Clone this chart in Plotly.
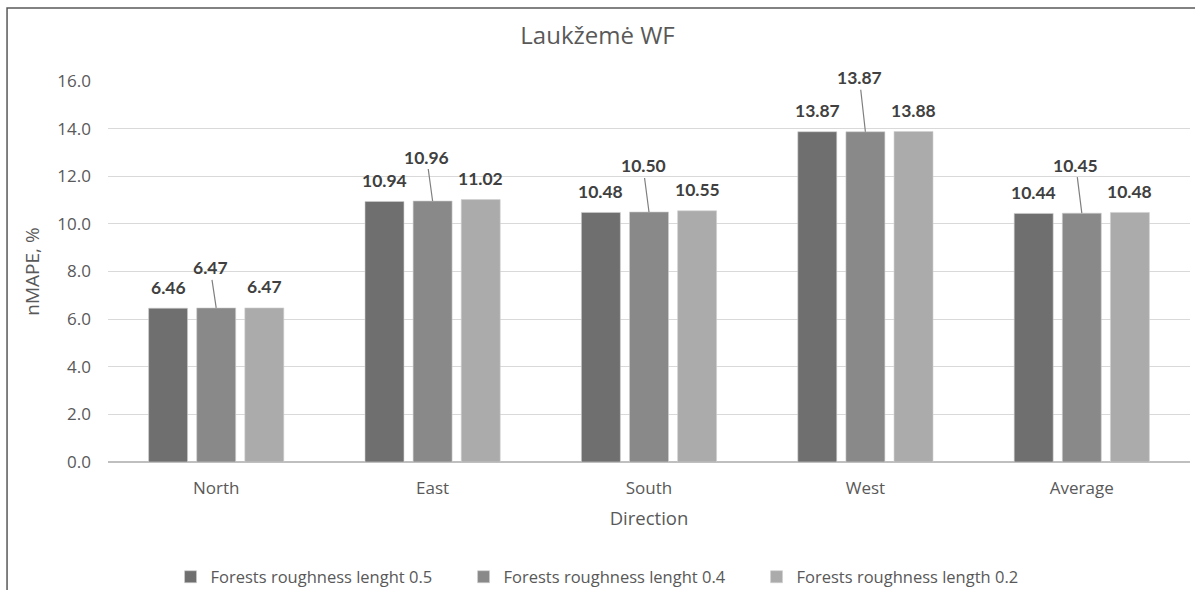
import plotly.graph_objects as go

categories = ["North", "East", "South", "West", "Average"]
series_names = [
    "Forests roughness lenght 0.5",
    "Forests roughness lenght 0.4",
    "Forests roughness length 0.2",
]
values_05 = [6.46, 10.94, 10.48, 13.87, 10.44]
values_04 = [6.47, 10.96, 10.50, 13.87, 10.45]
values_02 = [6.47, 11.02, 10.55, 13.88, 10.48]
y_ticks = [0, 2, 4, 6, 8, 10, 12, 14, 16]

colors = ["#6f6f6f", "#898989", "#ababab"]
# pixel offset of the middle-series labels (leader lines)
mid_label_lift = [-40, -44, -46, -54, -48]

FONT = "'Open Sans', Lato, sans-serif"
BFONT = "Lato, 'Open Sans', sans-serif"
TXT = "#595959"
LBL = "#404040"

fig = go.Figure()
all_series = [values_05, values_04, values_02]
for name, vals, col in zip(series_names, all_series, colors):
    fig.add_trace(go.Bar(
        x=categories, y=vals, name=name,
        marker=dict(color=col, line=dict(color="#d0d0d0", width=0.6)),
    ))

bargap = 0.333
slot = (1 - bargap) / 3
annotations = []
for s, vals in enumerate(all_series):
    off = (s - 1) * slot
    for i, v in enumerate(vals):
        if s == 1:
            annotations.append(dict(
                x=i + off, y=v, xref="x", yref="y", text=f"<b>{v:.2f}</b>",
                showarrow=True, arrowhead=0, arrowwidth=1.2, arrowcolor="#7f7f7f",
                ax=-6, ay=mid_label_lift[i], standoff=0, startstandoff=0,
                font=dict(family=BFONT, size=17.5, color=LBL),
            ))
        else:
            annotations.append(dict(
                x=i + off, y=v, xref="x", yref="y", text=f"<b>{v:.2f}</b>",
                showarrow=False, yshift=21, yanchor="middle",
                font=dict(family=BFONT, size=17.5, color=LBL),
            ))

fig.update_layout(
    width=1195, height=590,
    margin=dict(l=108, r=5, t=81, b=128, autoexpand=False),
    paper_bgcolor="white", plot_bgcolor="white",
    barmode="group", bargap=bargap, bargroupgap=0.19,
    font=dict(family=FONT, color=TXT, size=16),
    title=dict(text="Laukžemė WF", x=0.5, xanchor="center", y=0.94, yanchor="middle",
               font=dict(family=FONT, size=24, color=TXT)),
    xaxis=dict(
        type="category", range=[-0.5, 4.5],
        title=dict(text="Direction", font=dict(size=18.5, color=TXT), standoff=14),
        tickfont=dict(size=17, color=TXT), showgrid=False, ticks="",
        showline=False, ticklabelstandoff=14,
    ),
    yaxis=dict(
        range=[0, 16], tickvals=y_ticks, tickformat=".1f",
        title=dict(text="nMAPE, %", font=dict(size=19, color=TXT), standoff=12),
        tickfont=dict(size=17, color=TXT), gridcolor="#d9d9d9", gridwidth=1,
        zeroline=True, zerolinecolor="#bfbfbf", zerolinewidth=1.5,
        showline=False, ticks="", ticklabelstandoff=16,
    ),
    legend=dict(orientation="h", x=0.464, xanchor="center",
                yref="container", y=0.022, yanchor="middle",
                font=dict(size=16.5, color=TXT), entrywidth=248, itemwidth=30,
                traceorder="normal"),
    annotations=annotations,
    shapes=[dict(type="path", xref="paper", yref="paper",
                 path="M -0.0933,-0.5 L -0.0933,1.1916 L 1.2,1.1916",
                 line=dict(color="#595959", width=1.5))],
)

fig.write_html(
    "out.html",
    config={"displayModeBar": False},
    post_script="document.body.style.margin='0';document.body.style.overflow='hidden';",
)
